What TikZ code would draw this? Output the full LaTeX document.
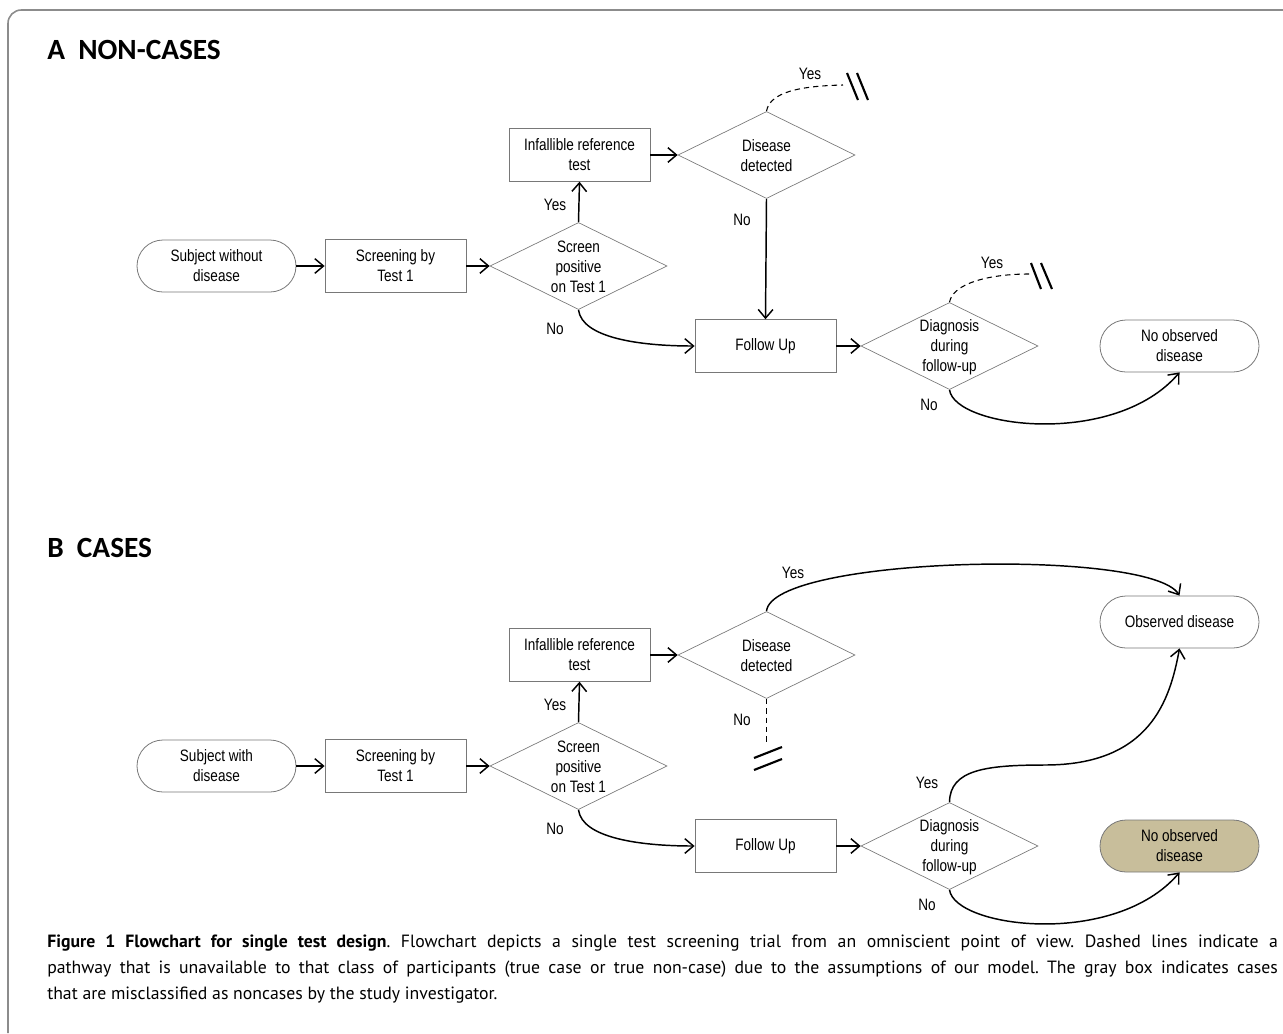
\documentclass[tikz,border=0pt]{standalone}
\usepackage{fontspec}
\setmainfont{Liberation Sans}
\newfontfamily\nodefont[FakeStretch=0.82]{Liberation Sans}
\newfontfamily\titlefont{Carlito}
\newfontfamily\capfont{PT Sans}
\usetikzlibrary{shapes.geometric,arrows.meta}
\definecolor{framegray}{RGB}{140,140,140}
\definecolor{boxgray}{RGB}{120,120,120}
\definecolor{khaki}{RGB}{200,190,155}
\tikzset{
  txt/.style={font=\nodefont\fontsize{12.4pt}{15pt}\selectfont, align=center, inner sep=0pt},
  procbox/.style={draw=boxgray, line width=0.6pt, rectangle, minimum width=105.75pt, minimum height=39.5pt, inner sep=0pt, txt},
  termbox/.style={draw=boxgray, line width=0.6pt, rectangle, rounded corners=19.5pt, minimum width=119.25pt, minimum height=39pt, inner sep=0pt, txt},
  decis/.style={draw=boxgray, line width=0.5pt, diamond, minimum width=132.75pt, minimum height=65.25pt, inner sep=0pt},
  lbl/.style={font=\nodefont\fontsize{12.4pt}{15pt}\selectfont, inner sep=0pt},
  conn/.style={line width=1.1pt, -{Straight Barb[length=6.5pt,width=11pt,line width=1.1pt]}},
  dashconn/.style={line width=0.8pt, dash pattern=on 4pt off 3pt},
  slash/.style={line width=1.6pt},
  paneltitle/.style={font=\titlefont\bfseries\fontsize{22pt}{26pt}\selectfont, anchor=west, inner sep=0pt}
}
\begin{document}
\begin{tikzpicture}[x=0.75pt,y=-0.75pt]
\useasboundingbox (0,0) rectangle (1283,1033);
% frame
\draw[framegray, line width=1.2pt, rounded corners=10pt] (8,1033) -- (8,10) -- (1283,10);

% ================= Panel A =================
\node[paneltitle] (tA) at (47,50) {A\ \ NON-CASES};

\node[termbox] (sa) at (216.5,266) {Subject without\\disease};
\node[procbox] (sca) at (395.5,266) {Screening by\\Test 1};
\node[decis] (sp) at (578.5,266) {};
\node[txt] (spt) at (578.5,267) {Screen\\positive\\on Test 1};
\node[procbox] (ir) at (579.5,155) {Infallible reference\\test};
\node[decis] (dd) at (766.5,155) {};
\node[txt] (ddt) at (766.5,156) {Disease\\detected};
\node[procbox] (fu) at (765.5,346) {Follow Up};
\node[decis] (dg) at (949.5,346) {};
\node[txt] (dgt) at (949.5,347) {Diagnosis\\during\\follow-up};
\node[termbox] (nod) at (1179.5,346) {No observed\\disease};

\draw[conn] (sa.east) -- (sca.west);
\draw[conn] (sca.east) -- (sp.west);
\draw[conn] (sp.north) -- (ir.south);
\draw[conn] (ir.east) -- (dd.west);
\draw[conn] (dd.south) -- (fu.north);
\draw[conn] (sp.south) .. controls (582,338) and (640,346) .. (fu.west);
\draw[conn] (fu.east) -- (dg.west);
\draw[conn] (dg.south) .. controls (955,428) and (1115,448) .. (nod.south);

\coordinate (yA1) at (843,85);
\coordinate (yA2) at (1029,274);
\draw[dashconn] (dd.north) .. controls (770,92) and (800,86) .. (yA1);
\draw[dashconn] (dg.north) .. controls (953,283) and (990,274) .. (yA2);
\coordinate (sA1a) at (847,73); \coordinate (sA1b) at (858,100);
\coordinate (sA2a) at (857,73); \coordinate (sA2b) at (868,100);
\draw[slash] (sA1a) -- (sA1b);
\draw[slash] (sA2a) -- (sA2b);
\coordinate (sA3a) at (1031,263); \coordinate (sA3b) at (1041,289);
\coordinate (sA4a) at (1041,263); \coordinate (sA4b) at (1052,289);
\draw[slash] (sA3a) -- (sA3b);
\draw[slash] (sA4a) -- (sA4b);

\node[lbl] (lA1) at (555,205) {Yes};
\node[lbl] (lA2) at (555,329) {No};
\node[lbl] (lA3) at (810,74) {Yes};
\node[lbl] (lA4) at (742,220) {No};
\node[lbl] (lA5) at (992,263) {Yes};
\node[lbl] (lA6) at (929,405) {No};

% ================= Panel B =================
\node[paneltitle] (tB) at (47,548) {B\ \ CASES};

\node[termbox] (sb) at (216.5,766) {Subject with\\disease};
\node[procbox] (scb) at (395.5,766) {Screening by\\Test 1};
\node[decis] (sp2) at (578.5,766) {};
\node[txt] (sp2t) at (578.5,767) {Screen\\positive\\on Test 1};
\node[procbox] (ir2) at (579.5,655) {Infallible reference\\test};
\node[decis] (dd2) at (766.5,655) {};
\node[txt] (dd2t) at (766.5,656) {Disease\\detected};
\node[procbox] (fu2) at (765.5,846) {Follow Up};
\node[decis] (dg2) at (949.5,846) {};
\node[txt] (dg2t) at (949.5,847) {Diagnosis\\during\\follow-up};
\node[termbox] (od) at (1179.5,622) {Observed disease};
\node[termbox, fill=khaki] (nod2) at (1179.5,846) {No observed\\disease};

\draw[conn] (sb.east) -- (scb.west);
\draw[conn] (scb.east) -- (sp2.west);
\draw[conn] (sp2.north) -- (ir2.south);
\draw[conn] (ir2.east) -- (dd2.west);
\draw[conn] (sp2.south) .. controls (582,838) and (640,846) .. (fu2.west);
\draw[conn] (fu2.east) -- (dg2.west);
\draw[conn] (dg2.south) .. controls (955,928) and (1115,948) .. (nod2.south);
\draw[conn] (dd2.north) .. controls (772,556) and (1150,548) .. (od.north);
\draw[conn] (dg2.north) .. controls (950,770) and (985,765) .. (1045,765) .. controls (1150,765) and (1170,700) .. (od.south);

\coordinate (nB1) at (766.5,743);
\draw[dashconn] (dd2.south) -- (nB1);
\coordinate (sB1a) at (754,758); \coordinate (sB1b) at (782,747);
\coordinate (sB2a) at (754,770); \coordinate (sB2b) at (782,759);
\draw[slash] (sB1a) -- (sB1b);
\draw[slash] (sB2a) -- (sB2b);

\node[lbl] (lB1) at (555,705) {Yes};
\node[lbl] (lB2) at (555,829) {No};
\node[lbl] (lB3) at (793,573) {Yes};
\node[lbl] (lB4) at (742,720) {No};
\node[lbl] (lB5) at (927,783) {Yes};
\node[lbl] (lB6) at (927,905) {No};

% ================= Caption =================
\node[anchor=north west, inner sep=0pt, text width=923pt, align=justify,
      font=\capfont\fontsize{13.3pt}{19.5pt}\selectfont\frenchspacing] (cap) at (47,935)
{\textbf{Figure 1 Flowchart for single test design}. Flowchart depicts a single test screening trial from an omniscient point of view. Dashed lines indicate a\linebreak
pathway that is unavailable to that class of participants (true case or true non-case) due to the assumptions of our model. The gray box indicates cases\linebreak
that are misclassified as noncases by the study investigator.};
\end{tikzpicture}
\end{document}
